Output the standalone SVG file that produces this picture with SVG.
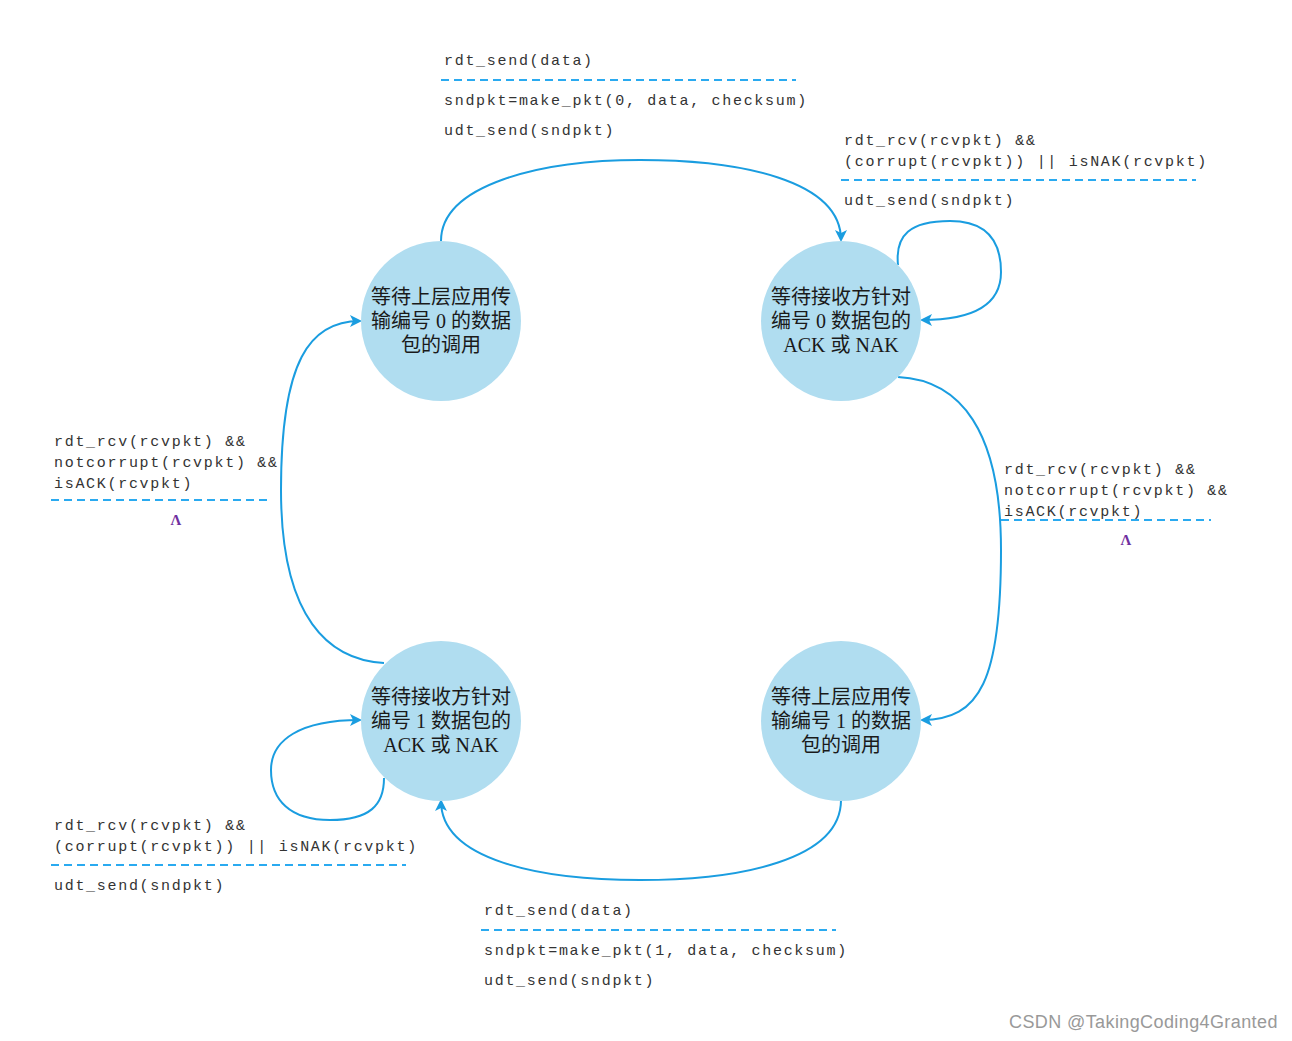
<svg xmlns="http://www.w3.org/2000/svg" width="1292" height="1041" viewBox="0 0 1292 1041">
  <defs>
    <marker id="arrow" viewBox="0 0 12 12" refX="10" refY="6" markerWidth="12" markerHeight="12" markerUnits="userSpaceOnUse" orient="auto">
      <path d="M0,0 L12,6 L0,12 L3,6 Z" fill="#1a9de0"/>
    </marker>
    <style>
      .state { fill: #b0ddf0; }
      .slabel { font-family: "Liberation Serif", "Noto Sans CJK SC", serif; font-size: 20px; fill: #1a1a1a; text-anchor: middle; }
      .edge { fill: none; stroke: #1a9de0; stroke-width: 2; marker-end: url(#arrow); }
      .code { font-family: "Liberation Mono", monospace; font-size: 15px; letter-spacing: 1.7px; fill: #333333; }
      .sep { stroke: #2aaaf0; stroke-width: 2; stroke-dasharray: 8 5; }
      .lambda { font-family: "Liberation Serif", serif; font-size: 15px; font-weight: bold; fill: #7030a0; text-anchor: middle; }
      .mark { font-family: "Liberation Sans", sans-serif; font-size: 18px; letter-spacing: 0.4px; fill: #999999; }
    </style>
  </defs>
  <rect width="1292" height="1041" fill="#ffffff"/>

  <!-- transitions -->
  <g id="connectors">
    <path class="edge" d="M441,241 C441,185 540,160 640,160 C740,160 841,180 841,240"/>
    <path class="edge" d="M898,265 C895,235 910,221 950,221 C990,221 1001,245 1001,272 C1001,300 980,320 922,320"/>
    <path class="edge" d="M898,377 C960,380 1001,430 1001,550 C1001,680 980,720 922,720"/>
    <path class="edge" d="M841,800 C841,860 740,880 640,880 C540,880 441,860 441,801"/>
    <path class="edge" d="M384,778 C384,805 370,820 330,820 C290,820 271,800 271,770 C271,740 300,720 360,720"/>
    <path class="edge" d="M384,663 C330,660 281,620 281,490 C281,360 310,321 360,321"/>
  </g>

  <!-- states -->
  <g id="wait-call-0">
    <circle class="state" cx="441" cy="321" r="80"/>
    <text class="slabel" x="441" y="304">等待上层应用传</text>
    <text class="slabel" x="441" y="328">输编号 0 的数据</text>
    <text class="slabel" x="441" y="352">包的调用</text>
  </g>
  <g id="wait-ack-0">
    <circle class="state" cx="841" cy="321" r="80"/>
    <text class="slabel" x="841" y="304">等待接收方针对</text>
    <text class="slabel" x="841" y="328">编号 0 数据包的</text>
    <text class="slabel" x="841" y="352">ACK 或 NAK</text>
  </g>
  <g id="wait-ack-1">
    <circle class="state" cx="441" cy="721" r="80"/>
    <text class="slabel" x="441" y="704">等待接收方针对</text>
    <text class="slabel" x="441" y="728">编号 1 数据包的</text>
    <text class="slabel" x="441" y="752">ACK 或 NAK</text>
  </g>
  <g id="wait-call-1">
    <circle class="state" cx="841" cy="721" r="80"/>
    <text class="slabel" x="841" y="704">等待上层应用传</text>
    <text class="slabel" x="841" y="728">输编号 1 的数据</text>
    <text class="slabel" x="841" y="752">包的调用</text>
  </g>

  <!-- transition labels -->
  <g id="label-send-0">
    <text class="code" x="444" y="65">rdt_send(data)</text>
    <line class="sep" x1="441" y1="80" x2="796" y2="80"/>
    <text class="code" x="444" y="105">sndpkt=make_pkt(0, data, checksum)</text>
    <text class="code" x="444" y="135">udt_send(sndpkt)</text>
  </g>
  <g id="label-resend-0">
    <text class="code" x="844" y="145">rdt_rcv(rcvpkt) &amp;&amp;</text>
    <text class="code" x="844" y="166">(corrupt(rcvpkt)) || isNAK(rcvpkt)</text>
    <line class="sep" x1="841" y1="180" x2="1196" y2="180"/>
    <text class="code" x="844" y="205">udt_send(sndpkt)</text>
  </g>
  <g id="label-ack-0">
    <text class="code" x="1004" y="474">rdt_rcv(rcvpkt) &amp;&amp;</text>
    <text class="code" x="1004" y="495">notcorrupt(rcvpkt) &amp;&amp;</text>
    <text class="code" x="1004" y="516">isACK(rcvpkt)</text>
    <line class="sep" x1="1001" y1="520" x2="1211" y2="520"/>
    <text class="lambda" x="1126" y="545">Λ</text>
  </g>
  <g id="label-send-1">
    <text class="code" x="484" y="915">rdt_send(data)</text>
    <line class="sep" x1="481" y1="930" x2="836" y2="930"/>
    <text class="code" x="484" y="955">sndpkt=make_pkt(1, data, checksum)</text>
    <text class="code" x="484" y="985">udt_send(sndpkt)</text>
  </g>
  <g id="label-resend-1">
    <text class="code" x="54" y="830">rdt_rcv(rcvpkt) &amp;&amp;</text>
    <text class="code" x="54" y="851">(corrupt(rcvpkt)) || isNAK(rcvpkt)</text>
    <line class="sep" x1="51" y1="865" x2="406" y2="865"/>
    <text class="code" x="54" y="890">udt_send(sndpkt)</text>
  </g>
  <g id="label-ack-1">
    <text class="code" x="54" y="446">rdt_rcv(rcvpkt) &amp;&amp;</text>
    <text class="code" x="54" y="467">notcorrupt(rcvpkt) &amp;&amp;</text>
    <text class="code" x="54" y="488">isACK(rcvpkt)</text>
    <line class="sep" x1="51" y1="500" x2="271" y2="500"/>
    <text class="lambda" x="176" y="525">Λ</text>
  </g>

  <text class="mark" x="1009" y="1028">CSDN @TakingCoding4Granted</text>
</svg>
